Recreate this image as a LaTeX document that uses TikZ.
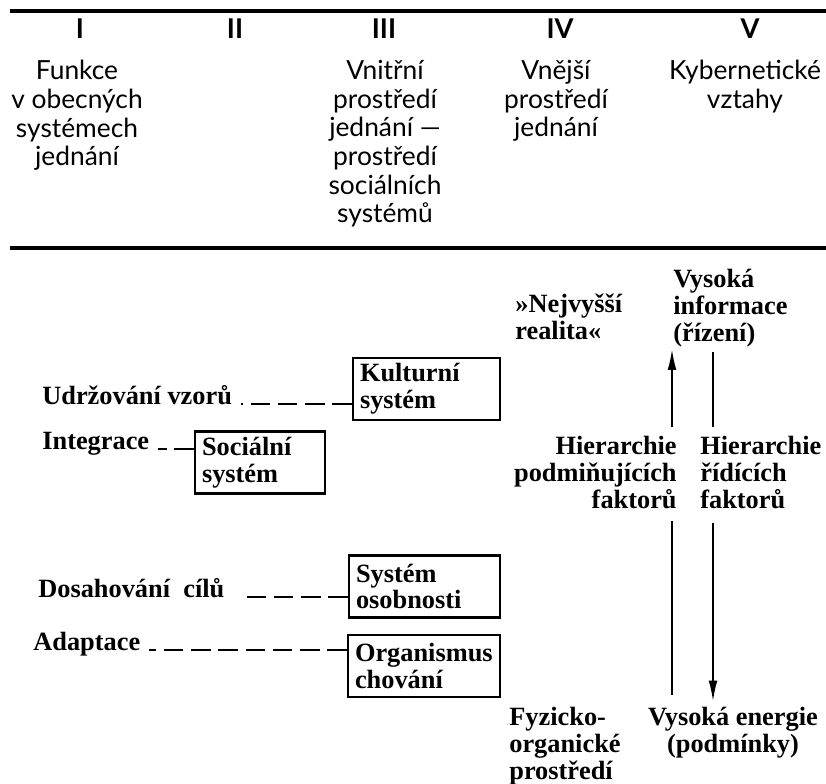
\documentclass[tikz,border=0pt]{standalone}
\usepackage{fontspec}
\setmainfont{Liberation Serif}
\newfontfamily\headfont{Lato}
\usetikzlibrary{arrows.meta}

\begin{document}
\begin{tikzpicture}[x=0.02cm,y=-0.02cm,
    colhead/.style={font=\headfont\fontsize{15}{16.3}\selectfont,align=center,inner sep=0pt,anchor=north},
    numeral/.style={font=\headfont\bfseries\fontsize{15.5}{16}\selectfont,inner sep=0pt,anchor=base},
    txt/.style={font=\bfseries\fontsize{15}{15.2}\selectfont,inner sep=0pt},
    sysbox/.style={txt,draw,line width=1.4pt,align=left,inner xsep=4pt,inner ysep=2pt,minimum height=1.24cm},
    leader/.style={line width=1pt,dash pattern=on 11pt off 4.5pt},
    flow/.style={line width=1.2pt},
    uparr/.style={flow,-{Latex[length=12pt,width=5pt]}}]
    \useasboundingbox (0,0) rectangle (826,784);
    \draw[line width=2pt] (10,11)--(826,11);
    \draw[line width=2pt] (10,248)--(826,248);
    \node[numeral] (n1) at (80,39) {I};
    \node[numeral] (n2) at (235,39) {II};
    \node[numeral] (n3) at (384,39) {III};
    \node[numeral] (n4) at (560,39) {IV};
    \node[numeral] (n5) at (750,39) {V};
    \node[colhead] (h1) at (77,60) {Funkce\\v obecných\\systémech\\jednání};
    \node[colhead] (h3) at (385,60) {Vnitřní\\prostředí\\jednání —\\prostředí\\sociálních\\systémů};
    \node[colhead] (h4) at (556,60) {Vnější\\prostředí\\jednání};
    \node[colhead] (h5) at (745,60) {Kybernetické\\vztahy};

    \node[txt,anchor=base west] (udrz) at (42,404) {Udržování vzorů};
    \node[txt,anchor=base west] (integ) at (42,449) {Integrace};
    \node[txt,anchor=base west] (dosah) at (38,597) {Dosahování\enspace cílů};
    \node[txt,anchor=base west] (adapt) at (33,650) {Adaptace};
    \node[sysbox,text width=2.66cm] (kult) at (426.5,389) {Kulturní\\systém};
    \node[sysbox,text width=2.32cm] (soc) at (260,462.5) {Sociální\\systém};
    \node[sysbox,text width=2.74cm] (osob) at (424.5,586.5) {Systém\\osobnosti};
    \node[sysbox,text width=2.76cm] (org) at (424,666) {Organismus\\chování};
    \draw[leader,shorten >=5pt] (kult.west |- udrz.base east)--(udrz.base east);
    \draw[leader,shorten >=5pt] (soc.west |- integ.base east)--(integ.base east);
    \draw[leader,shorten >=9pt] (osob.west |- dosah.base east)--(dosah.base east);
    \draw[leader,shorten >=5pt] (org.west |- adapt.base east)--(adapt.base east);

    \node[txt,align=left,anchor=north west] (real) at (515,294) {»Nejvyšší\\realita«};
    \node[txt,align=left,anchor=north west] (info) at (673,269) {Vysoká\\informace\\(řízení)};
    \node[txt,align=right,anchor=north east] (podm) at (677,436) {Hierarchie\\podmiňujících\\faktorů};
    \node[txt,align=left,anchor=north west] (ridi) at (700,436) {Hierarchie\\řídících\\faktorů};
    \node[txt,align=left,anchor=north west] (fyz) at (509,707) {Fyzicko-\\organické\\prostředí};
    \node[txt,align=center,anchor=north] (energ) at (733,707) {Vysoká energie\\(podmínky)};
    \coordinate (upcol) at (672,0);
    \coordinate (downcol) at (713,0);
    \draw[uparr,shorten <=5pt,shorten >=1pt] (upcol |- podm.north)--(upcol |- info.south);
    \draw[flow,shorten <=3pt,shorten >=5pt] (downcol |- info.south)--(downcol |- ridi.north);
    \draw[flow,shorten <=7pt,shorten >=7pt] (upcol |- podm.south)--(upcol |- fyz.north);
    \draw[uparr,shorten <=8pt,shorten >=3pt] (downcol |- ridi.south)--(downcol |- energ.north);
\end{tikzpicture}
\end{document}
